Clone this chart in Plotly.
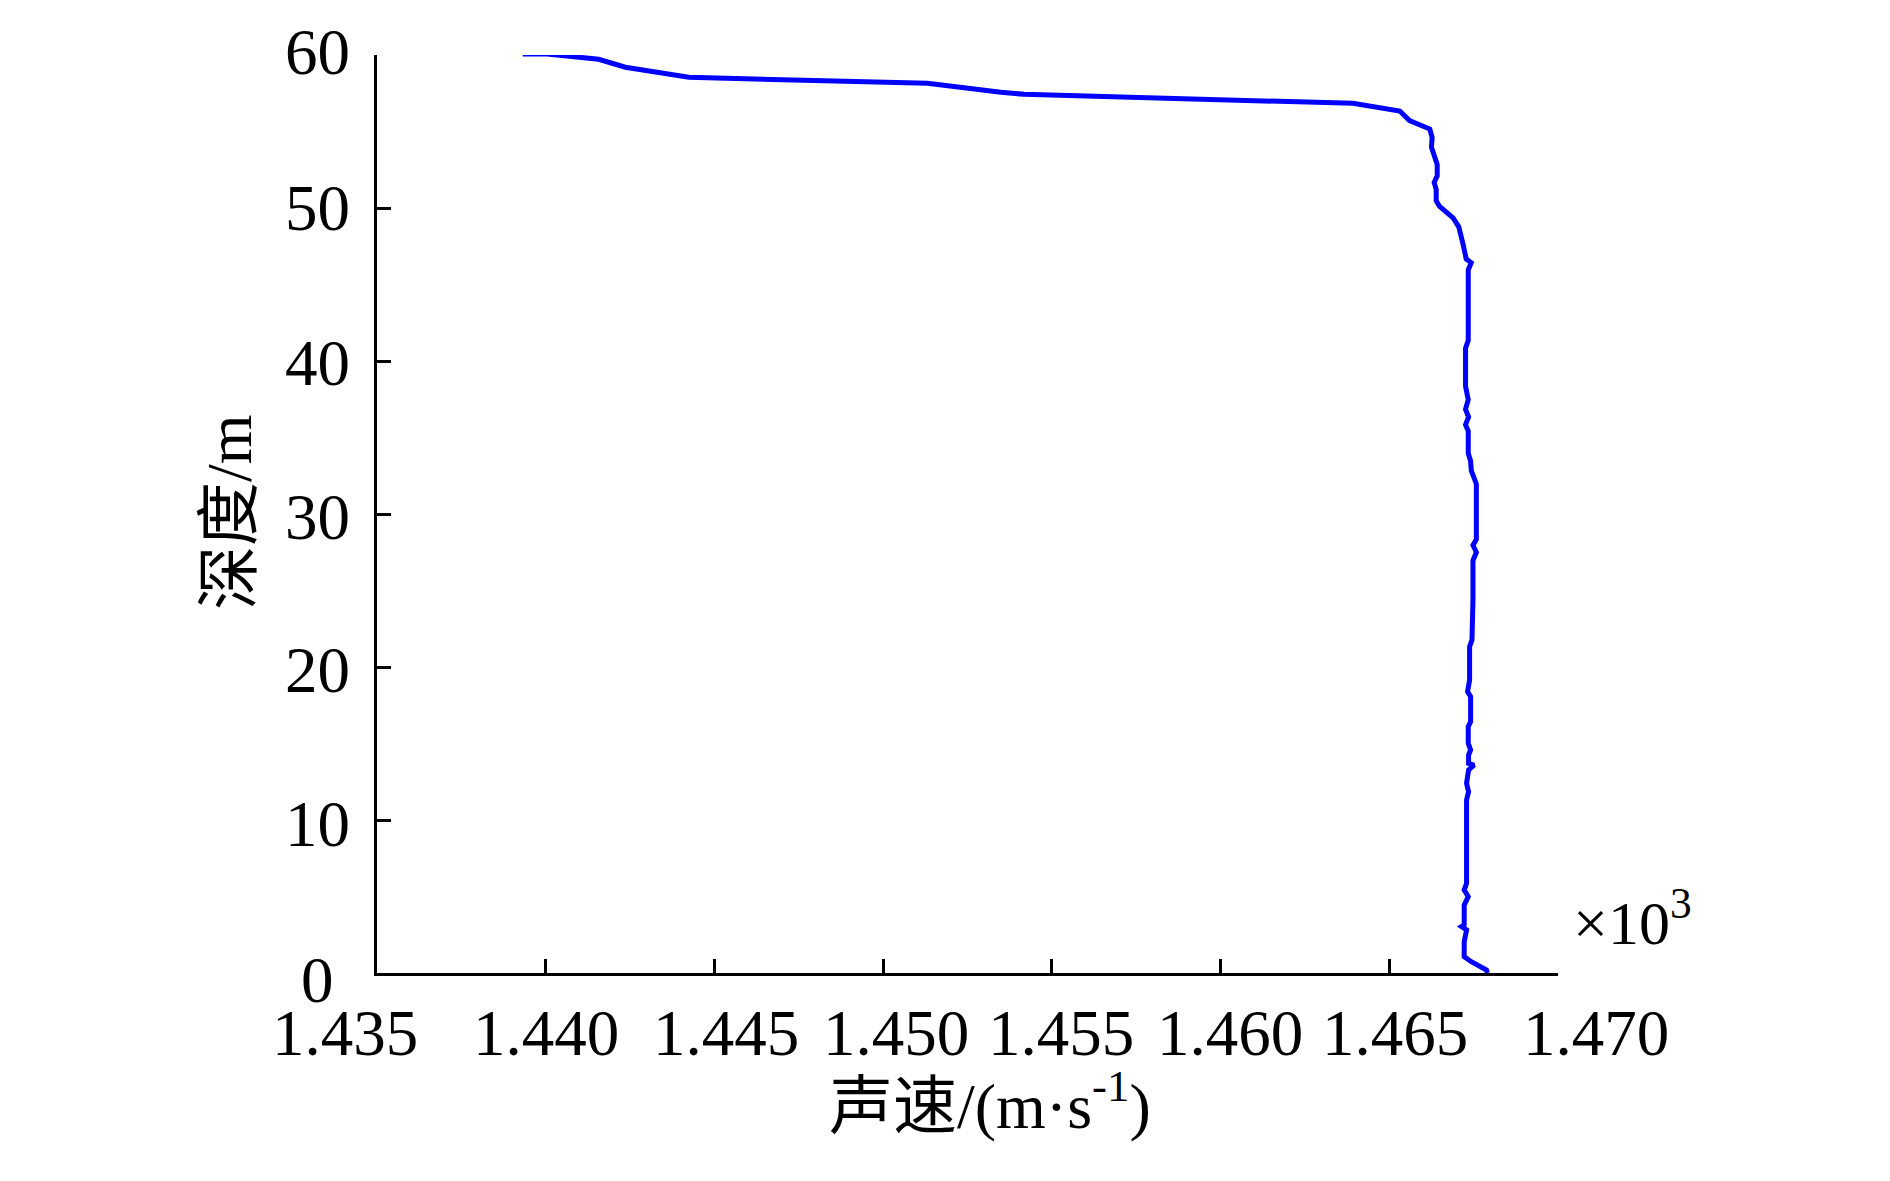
import plotly.graph_objects as go

# sound speed (x10^3 m/s) vs depth (m)
speed = [1.43932, 1.44004, 1.44157, 1.44236, 1.44424, 1.45131, 1.45349, 1.45418,
         1.46392, 1.46531, 1.46560, 1.46620, 1.46627, 1.46625, 1.46642, 1.46642,
         1.46633, 1.46639, 1.46639, 1.46649, 1.46689, 1.46706, 1.46719, 1.46728,
         1.46743, 1.46734, 1.46734, 1.46726, 1.46726, 1.46734, 1.46726, 1.46735,
         1.46726, 1.46734, 1.46734, 1.46741, 1.46743, 1.46758, 1.46758, 1.46748,
         1.46758, 1.46748, 1.46748, 1.46745, 1.46738, 1.46738, 1.46732, 1.46741,
         1.46741, 1.46734, 1.46734, 1.46741, 1.46735, 1.46735, 1.46751, 1.46735,
         1.46729, 1.46735, 1.46729, 1.46729, 1.46729, 1.46722, 1.46734, 1.46722,
         1.46722, 1.46714, 1.46729, 1.46722, 1.46722, 1.46743, 1.46788, 1.46791]
depth = [60.07, 60.07, 59.72, 59.20, 58.54, 58.15, 57.56, 57.43,
         56.84, 56.34, 55.71, 55.16, 54.60, 53.97, 52.85, 52.10,
         51.67, 51.22, 50.47, 50.10, 49.35, 48.77, 47.60, 46.67,
         46.42, 45.97, 41.35, 40.84, 38.35, 37.47, 36.84, 36.34,
         35.84, 35.42, 33.97, 33.46, 32.84, 31.97, 28.34, 27.96,
         27.50, 26.96, 24.38, 21.76, 21.33, 19.15, 18.39, 18.06,
         16.42, 16.10, 15.01, 14.58, 14.25, 13.70, 13.59, 13.27,
         12.40, 11.85, 11.31, 10.98, 5.86, 5.42, 4.99, 4.44,
         3.14, 3.03, 2.81, 2.05, 1.07, 0.74, 0.20, 0.00]

x_ticks = [1.435, 1.440, 1.445, 1.450, 1.455, 1.460, 1.465, 1.470]
x_tick_text = ['1.435', '1.440', '1.445', '1.450', '1.455', '1.460', '1.465', '1.470']
x_tick_shift = [-32, 0, 12, 13, 9, 9, 6, 38]
y_ticks = [0, 10, 20, 30, 40, 50, 60]
y_tick_text = ['0', '10', '20', '30', '40', '50', '60']
y_tick_shift = [-7, -4, -3, -3, -2, 0, 3]

FONT = 'Liberation Serif, Times New Roman, Noto Sans CJK SC'
black = '#000000'

fig = go.Figure([go.Scatter(x=speed, y=depth, mode='lines',
                            line=dict(color='#0000ff', width=5),
                            showlegend=False)])

# page body has an 8px margin, so the figure is 8px smaller than the window
fig.update_layout(width=1882, height=1173,
                  plot_bgcolor='white', paper_bgcolor='white',
                  margin=dict(l=369, r=332, t=47, b=208),
                  font=dict(family=FONT, size=66, color=black))

fig.update_xaxes(range=[1.435, 1.470], tickvals=x_ticks, showticklabels=False,
                 showline=True, linecolor=black, linewidth=3,
                 ticks='inside', ticklen=14, tickwidth=3, tickcolor=black,
                 showgrid=False, zeroline=False)
fig.update_yaxes(range=[0, 60], tickvals=y_ticks, showticklabels=False,
                 showline=True, linecolor=black, linewidth=3,
                 ticks='inside', ticklen=14, tickwidth=3, tickcolor=black,
                 showgrid=False, zeroline=False)

# tick labels as annotations so they can sit where the original puts them
for v, t, s in zip(x_ticks, x_tick_text, x_tick_shift):
    fig.add_annotation(x=v, xref='x', y=0, yref='paper', text=t,
                       showarrow=False, xanchor='center', yanchor='top',
                       xshift=s, yshift=-22, font=dict(size=65))
for v, t, s in zip(y_ticks, y_tick_text, y_tick_shift):
    fig.add_annotation(x=0, xref='paper', y=v, yref='y', text=t,
                       showarrow=False, xanchor='center', yanchor='middle',
                       xshift=-60, yshift=s, font=dict(size=65))

# axis titles
fig.add_annotation(x=0.5, xref='paper', y=0, yref='paper',
                   text='声速/(m·s<sup>-1</sup>)', showarrow=False,
                   xanchor='center', yanchor='middle', xshift=22, yshift=-128,
                   font=dict(size=64))
fig.add_annotation(x=0, xref='paper', y=0.5, yref='paper',
                   text='深度/m', textangle=-90, showarrow=False,
                   xanchor='center', yanchor='middle', xshift=-148, yshift=2,
                   font=dict(size=64))
fig.add_annotation(x=1, xref='paper', y=0, yref='paper',
                   text='×10<sup>3</sup>', showarrow=False,
                   xanchor='left', yanchor='middle', xshift=13, yshift=55,
                   font=dict(size=62))

fig.write_html("out.html")
